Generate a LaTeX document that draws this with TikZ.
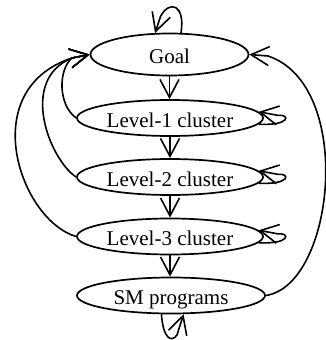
\documentclass[tikz,border=0pt]{standalone}
\usepackage{fontspec}
\setmainfont{Liberation Serif}
\newfontfamily\nodefont{Liberation Serif}
\usetikzlibrary{arrows.meta,shapes.geometric,calc}
\begin{document}
\begin{tikzpicture}[x=1pt,y=1pt,
  el/.style={ellipse,draw,line width=1.7pt,inner sep=0pt,minimum height=36pt,minimum width=186pt,
    font=\nodefont\fontsize{21}{25}\selectfont,text height=18pt,text depth=0pt},
  arr/.style={line width=1.6pt,-{Straight Barb[length=18pt,width=19pt]}}]
\useasboundingbox (0,0) rectangle (326,-340);
\node[el,minimum width=158pt,minimum height=42pt] (goal) at (169.5,-54.5) {Goal};
\node[el] (l1) at (170,-118) {Level-1 cluster};
\node[el] (l2) at (170,-177) {Level-2 cluster};
\node[el] (l3) at (170,-236.5) {Level-3 cluster};
\node[el,minimum width=188pt] (sm) at (171,-295.5) {SM programs};
% downward arrows
\draw[arr] (goal.south) -- (goal.south |- l1.north);
\draw[arr] (l1.south) -- (l1.south |- l2.north);
\draw[arr] (l2.south) -- (l2.south |- l3.north);
\draw[arr] (l3.south) -- (l3.south |- sm.north);
% arrow bases at Goal
\coordinate (bl) at (72,-58);
\coordinate (br) at (268,-56);
% feedback arcs
\draw[arr] (l1.west) .. controls (58,-105) and (58,-70) .. (bl) -- (goal.west);
\draw[arr] (l2.west) .. controls (50,-160) and (18,-80) .. (bl) -- (goal.west);
\draw[arr] (l3.west) .. controls (20,-220) and (-25,-90) .. (bl) -- (goal.west);
\draw[arr] (sm.east) .. controls (335,-285) and (355,-85) .. (br) -- (goal.east);
% self loops
\foreach \n in {l1,l2,l3}
  \draw[arr] (\n.-4) .. controls ($(\n.center)+(120,-8)$) and ($(\n.center)+(121,4)$) .. ($(\n.4)+(19,-3.5)$) -- (\n.4);
\draw[arr] (goal.62) .. controls ($(goal.center)+(16,50)$) and ($(goal.center)+(0,55)$) .. ($(goal.center)+(-9,38)$) -- (goal.124);
\draw[arr] (sm.-117) .. controls ($(sm.center)+(-8,-42)$) and ($(sm.center)+(0,-48)$) .. ($(sm.center)+(6,-39.5)$) -- (sm.-56);
\end{tikzpicture}
\end{document}
